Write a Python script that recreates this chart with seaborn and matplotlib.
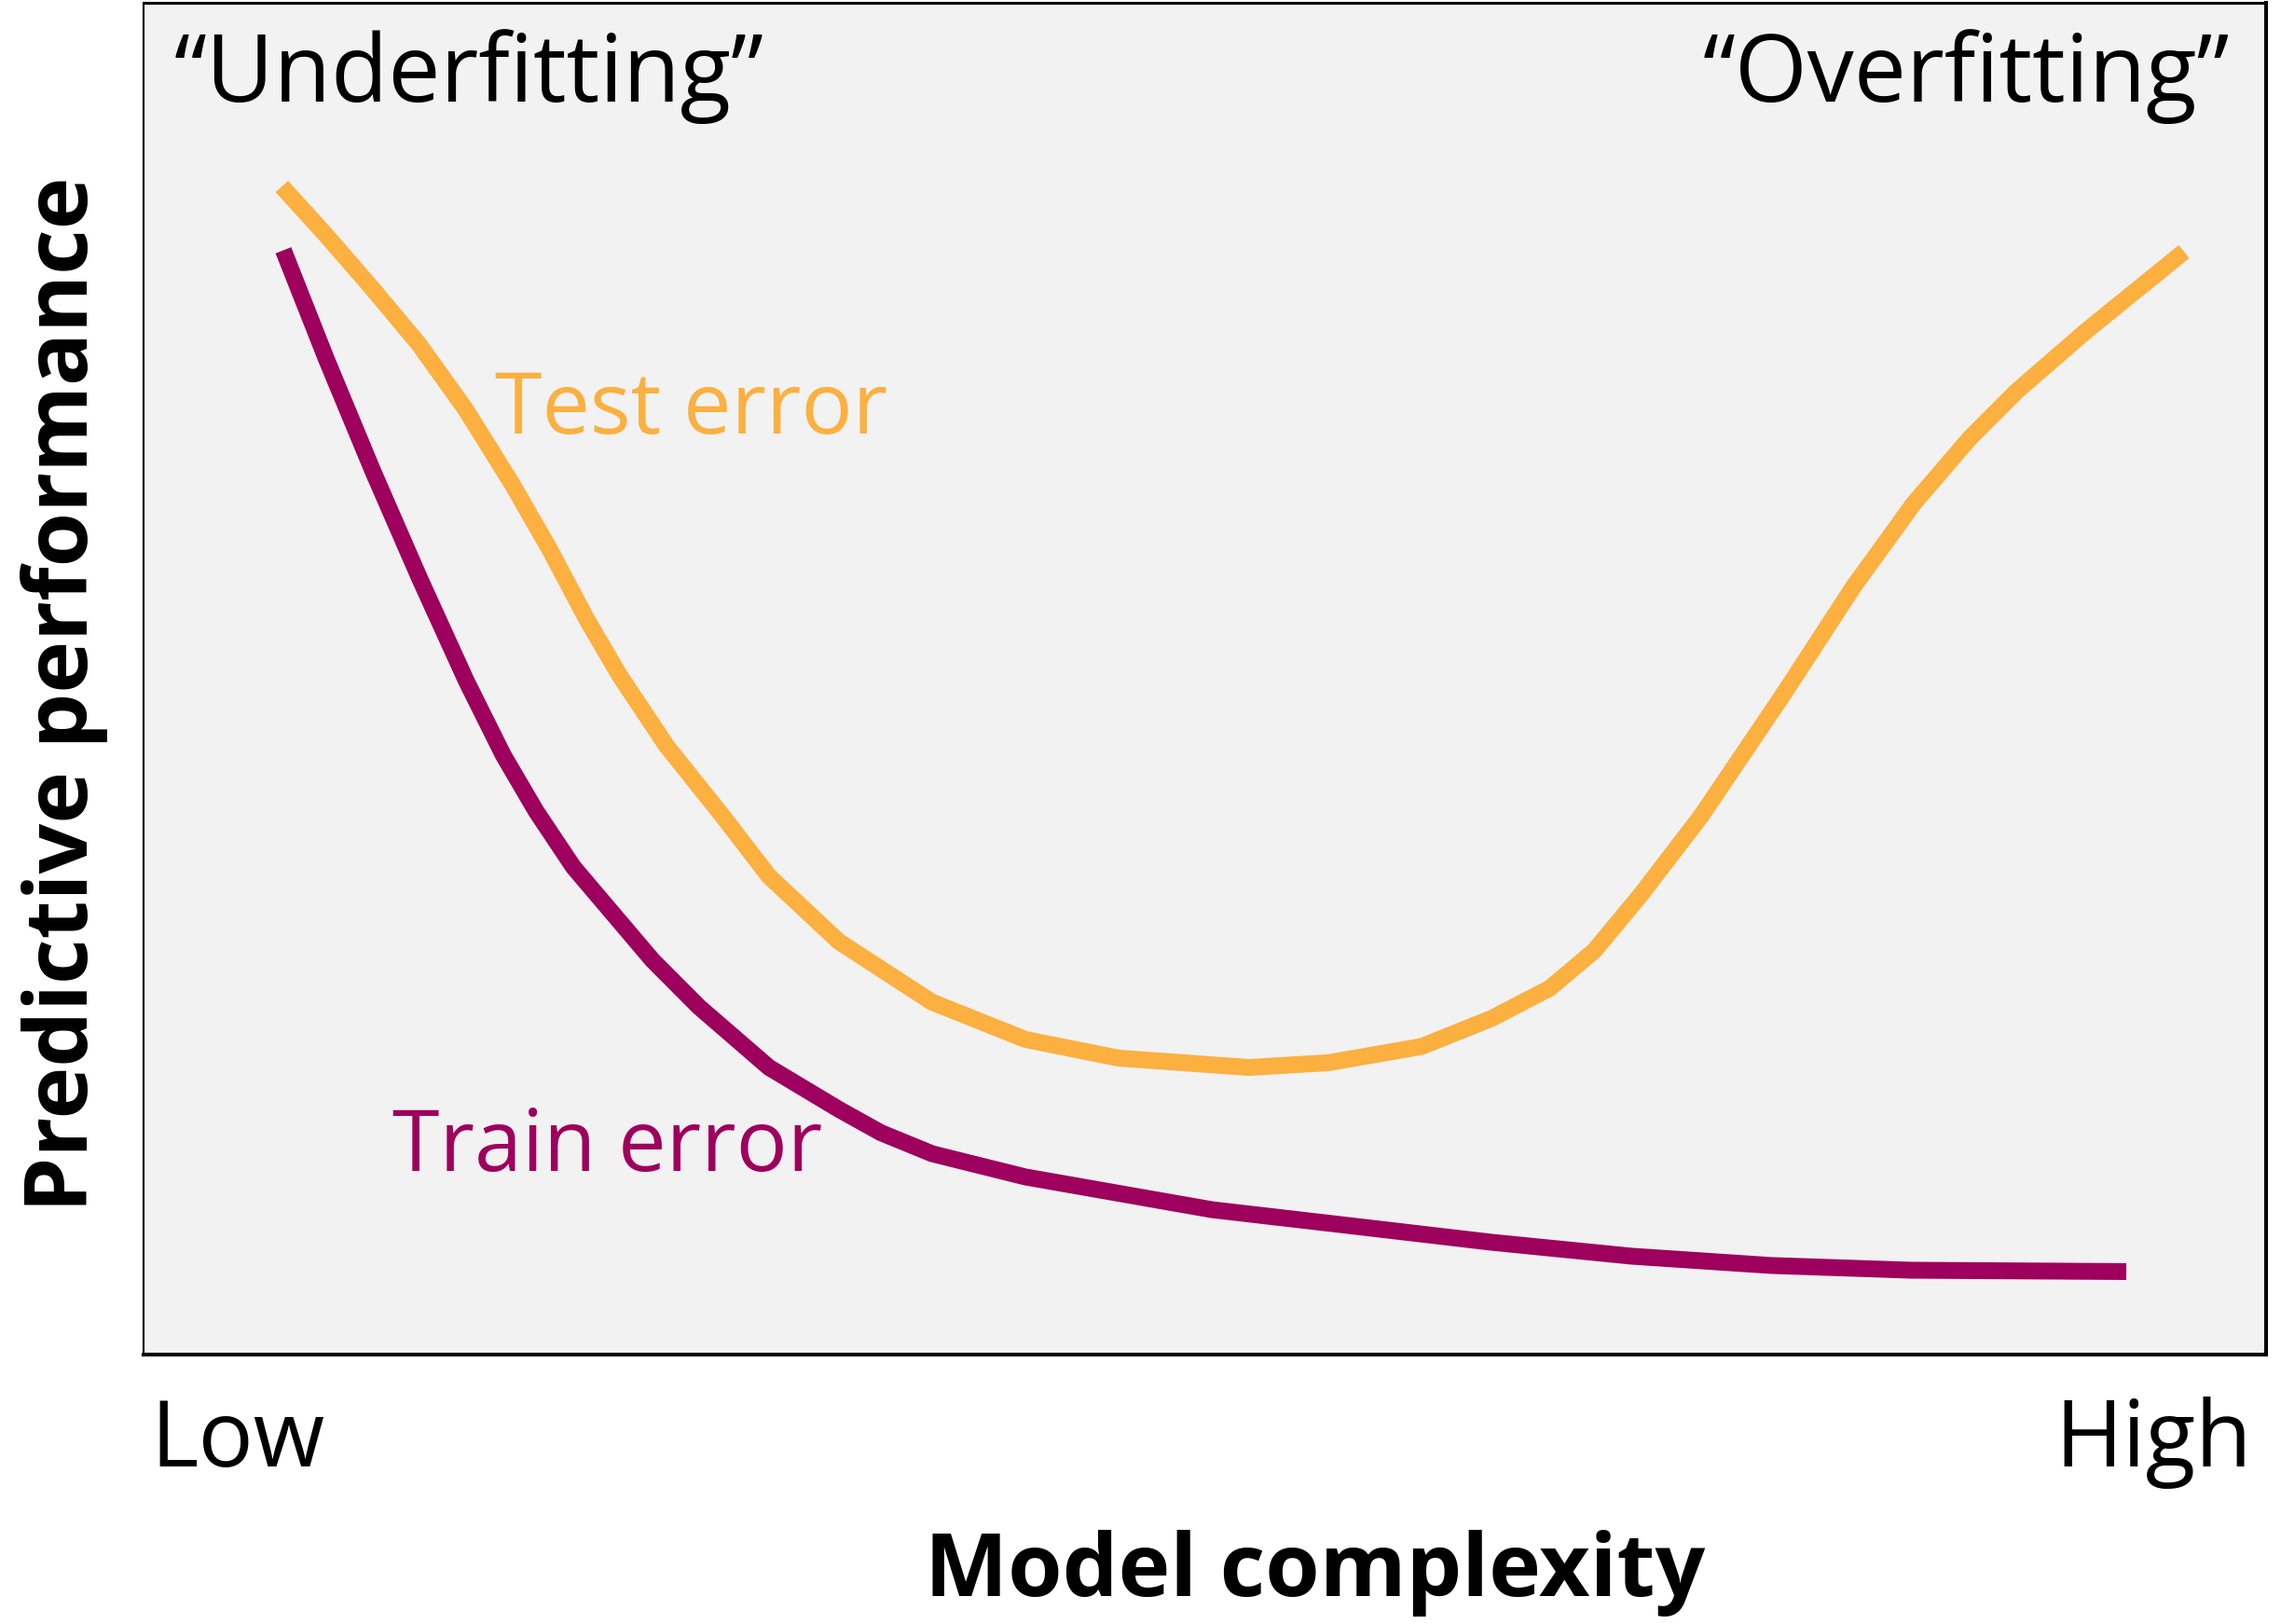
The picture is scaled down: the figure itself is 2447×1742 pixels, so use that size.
import pandas as pd
import numpy as np
import matplotlib
matplotlib.use("Agg")
import matplotlib.pyplot as plt
import seaborn as sns

# values (x: model complexity 0-100, y: 0-100)
test_x = [6.52, 8.61, 10.80, 13.00, 15.20, 17.39, 19.15, 20.90, 22.44, 24.64,
          27.27, 29.47, 32.76, 37.15, 41.55, 45.94, 52.09, 55.82, 60.21, 63.50,
          66.25, 68.34, 70.53, 73.39, 77.25, 80.54, 83.40, 86.04, 88.23, 91.52, 96.13]
test_y = [86.41, 82.79, 78.83, 74.69, 69.86, 64.34, 59.52, 54.34, 50.21, 45.03,
          39.86, 35.38, 30.55, 26.07, 23.31, 21.93, 21.24, 21.59, 22.79, 24.86,
          27.10, 29.86, 34.00, 39.86, 48.83, 56.76, 62.97, 67.79, 71.24, 75.72, 81.59]

train_x = [6.59, 8.61, 10.80, 13.00, 15.20, 16.95, 18.49, 20.25, 23.98, 26.17,
           29.47, 32.76, 34.74, 37.15, 41.55, 45.94, 50.33, 56.92, 63.50, 70.09,
           76.68, 83.27, 93.41]
train_y = [81.69, 73.66, 65.38, 57.45, 49.86, 44.34, 40.21, 36.07, 29.17, 25.72,
           21.24, 18.14, 16.41, 14.86, 13.14, 11.93, 10.72, 9.52, 8.31, 7.28,
           6.59, 6.24, 6.14]

series_names = ["Test error", "Train error"]
complexity_labels = ["Low", "High"]
regime_labels = ["\u201cUnderfitting\u201d", "\u201cOverfitting\u201d"]

df = pd.concat([
    pd.DataFrame({"complexity": test_x, "performance": test_y, "curve": series_names[0]}),
    pd.DataFrame({"complexity": train_x, "performance": train_y, "curve": series_names[1]}),
])

orange = "#FBB040"
purple = "#9E005D"

sns.set_theme(style="white")
plt.rcParams["font.family"] = ["Open Sans", "DejaVu Sans"]

fig = plt.figure(figsize=(24.47, 17.42), dpi=100)
ax = fig.add_axes([0.0629, 0.1659, 0.9306, 0.8324])
ax.set_facecolor("#F2F2F2")

sns.lineplot(data=df, x="complexity", y="performance", hue="curve",
             palette={series_names[0]: orange, series_names[1]: purple},
             estimator=None, sort=False, linewidth=13, legend=False, ax=ax)
for line in ax.lines:
    line.set_solid_capstyle("butt")
    line.set_solid_joinstyle("round")

ax.set_xlim(0, 100)
ax.set_ylim(0, 100)
ax.set_xticks([])
ax.set_yticks([])

for side, w in {"left": 1.5, "top": 2.2, "right": 2.9, "bottom": 2.9}.items():
    ax.spines[side].set_visible(True)
    ax.spines[side].set_color("black")
    ax.spines[side].set_linewidth(w)

ax.text(0.0145, 0.9269, regime_labels[0], transform=ax.transAxes, fontsize=72,
        ha="left", va="baseline", color="black")
ax.text(0.9829, 0.9269, regime_labels[1], transform=ax.transAxes, fontsize=72,
        ha="right", va="baseline", color="black")
ax.text(0.1656, 0.6814, series_names[0], transform=ax.transAxes, fontsize=66,
        ha="left", va="baseline", color=orange)
ax.text(0.1173, 0.1359, series_names[1], transform=ax.transAxes, fontsize=66,
        ha="left", va="baseline", color=purple)

ax.text(0.0031, -0.0828, complexity_labels[0], transform=ax.transAxes, fontsize=71,
        ha="left", va="baseline", color="black")
ax.text(0.9934, -0.0828, complexity_labels[1], transform=ax.transAxes, fontsize=71,
        ha="right", va="baseline", color="black")

ax.set_xlabel("Model complexity", fontsize=68, fontweight="bold", va="baseline",
              color="black")
ax.xaxis.set_label_coords(0.552, -0.1786)
ax.set_ylabel("Predictive performance", fontsize=68, fontweight="bold", va="baseline",
              color="black")
ax.yaxis.set_label_coords(-0.0264, 0.4886)

fig.savefig("out.png", dpi=100)
